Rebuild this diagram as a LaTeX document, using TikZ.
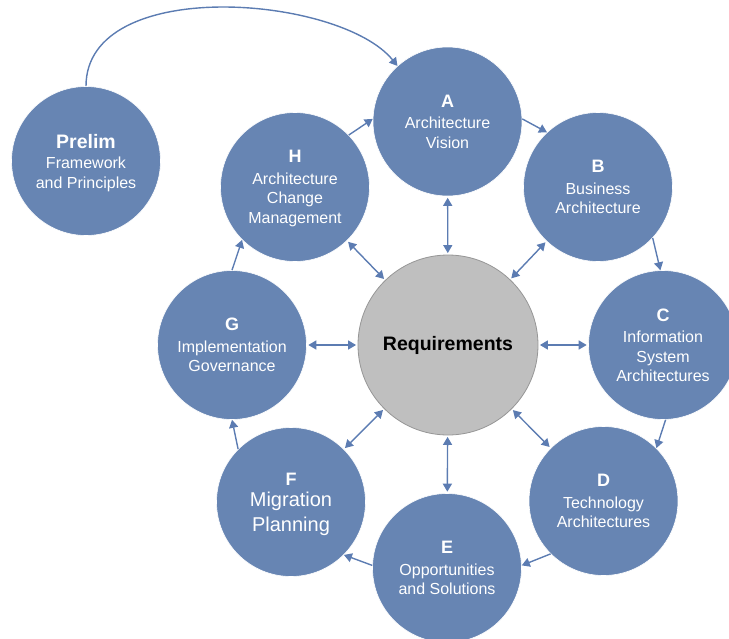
\documentclass[tikz,border=0pt]{standalone}
\usepackage{fontspec}
\setmainfont{Liberation Sans}
\usetikzlibrary{arrows.meta}
\definecolor{phaseblue}{RGB}{103,133,179}
\definecolor{arrowblue}{RGB}{92,124,178}
\definecolor{reqgray}{RGB}{191,191,191}
\definecolor{reqedge}{RGB}{150,150,150}
\tikzset{
  phase/.style={circle, fill=phaseblue, draw=white, line width=0.6pt, minimum size=149pt, inner sep=0pt,
    text=white, align=center, text depth=0pt, font=\fontsize{16}{19.5}\selectfont},
  reqnode/.style={circle, fill=reqgray, draw=reqedge, line width=0.8pt, minimum size=180pt, inner sep=0pt,
    text=black, font=\fontsize{19.5}{22}\selectfont\bfseries},
  flow/.style={draw=arrowblue, line width=1.4pt, -{Triangle[length=8pt,width=9pt]}},
  bi/.style={draw=arrowblue, line width=1.4pt, {Triangle[length=8pt,width=9pt]}-{Triangle[length=8pt,width=9pt]},
    shorten >=1.5pt, shorten <=1.5pt},
}
\newcommand{\ltr}[1]{{\fontsize{18}{19.5}\selectfont\bfseries #1}\\[2pt]}
\begin{document}
\begin{tikzpicture}[x=1pt,y=-1pt]
\useasboundingbox (0,0) rectangle (729,638);
\clip (0,0) rectangle (729,638);
\node[phase] (P) at (86,161) {{\fontsize{19.5}{19.5}\selectfont\bfseries Prelim}\\[1pt]Framework\\and Principles};
\node[phase] (A) at (447.5,121.5) {\ltr{A}Architecture\\Vision};
\node[phase] (B) at (598,187) {\ltr{B}Business\\Architecture};
\node[phase] (C) at (663,345) {\ltr{C}Information\\System\\Architectures};
\node[phase] (D) at (603.5,501) {\ltr{D}Technology\\Architectures};
\node[phase] (E) at (447,568) {\ltr{E}Opportunities\\and Solutions};
\node[phase] (F) at (291,502) {\ltr{F}{\fontsize{20}{24}\selectfont Migration}\\[5pt]{\fontsize{20}{24}\selectfont Planning}};
\node[phase] (G) at (232,345) {\ltr{G}Implementation\\Governance};
\node[phase] (H) at (295,187) {\ltr{H}Architecture\\Change\\Management};
\node[reqnode] (R) at (448,345) {Requirements};
% ring
\draw[flow] (P.90) .. controls (86,-25) and (340,-5) .. (A.132);
\draw[flow] (H.44) -- (A.178);
\draw[flow] (A.2) -- (B.133);
\draw[flow] (B.-43) -- (C.92);
\draw[flow] (C.-88) -- (D.45);
\draw[flow] (D.-135) -- (E.2);
\draw[flow] (E.178) -- (F.-45);
\draw[flow] (F.135) -- (G.-90);
\draw[flow] (G.90) -- (H.-135);
% requirements
\foreach \n in {A,B,C,D,E,F,G,H} \draw[bi] (R) -- (\n);
\end{tikzpicture}
\end{document}
